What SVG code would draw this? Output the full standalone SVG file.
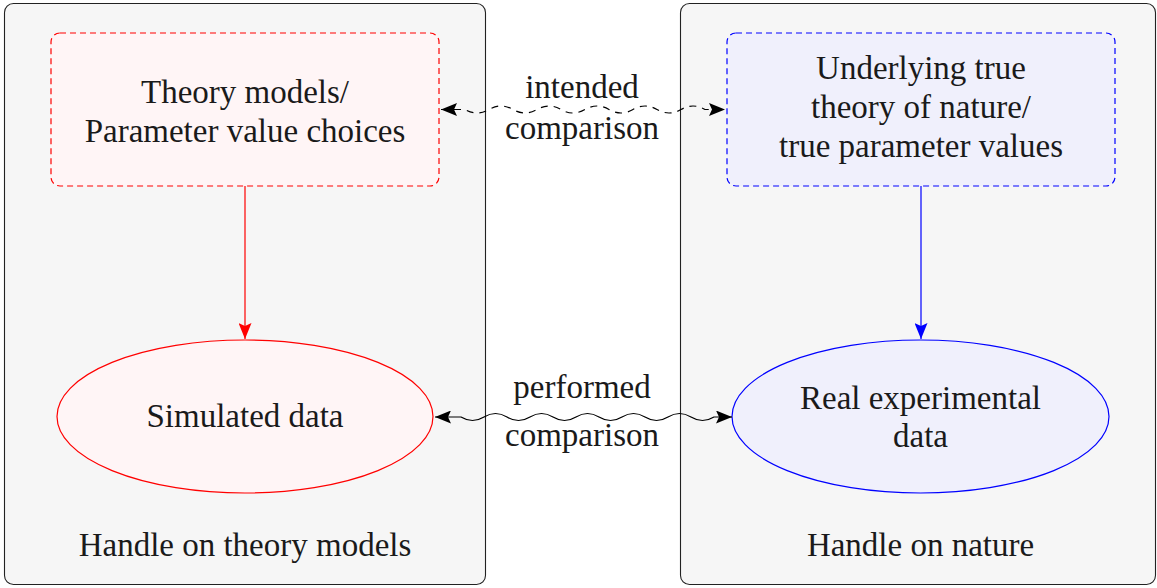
<svg xmlns="http://www.w3.org/2000/svg" width="1157" height="588" viewBox="0 0 1157 588">
<style>
text{font-size:33px;fill:#1a1a1a;text-anchor:middle}
.panel{fill:#f6f6f6;stroke:#222;stroke-width:1.1}
.rbox{fill:#fff5f6;stroke:#ff0000;stroke-width:1.2;stroke-dasharray:6 4}
.bbox{fill:#f0f0fc;stroke:#0000ff;stroke-width:1.2;stroke-dasharray:6 4}
.rell{fill:#fff5f6;stroke:#ff0000;stroke-width:1.2}
.bell{fill:#f0f0fc;stroke:#0000ff;stroke-width:1.2}
.conn{fill:none;stroke-width:1.2}
</style>
<defs>
<marker id="ak" viewBox="0 0 16 13" refX="16" refY="6.5" markerWidth="16" markerHeight="13" markerUnits="userSpaceOnUse" orient="auto-start-reverse">
<path d="M0,0 L16,6.5 L0,13 L3,6.5 Z" fill="#000"/>
</marker>
<marker id="ar" viewBox="0 0 16 13" refX="16" refY="6.5" markerWidth="16" markerHeight="13" markerUnits="userSpaceOnUse" orient="auto">
<path d="M0,0 L16,6.5 L0,13 L3,6.5 Z" fill="#ff0000"/>
</marker>
<marker id="ab" viewBox="0 0 16 13" refX="16" refY="6.5" markerWidth="16" markerHeight="13" markerUnits="userSpaceOnUse" orient="auto">
<path d="M0,0 L16,6.5 L0,13 L3,6.5 Z" fill="#0000ff"/>
</marker>
</defs>
<g font-family="Liberation Serif, serif">
<g id="panel-theory">
<rect class="panel" x="4.5" y="3.5" width="481" height="581" rx="9"/>
<text x="245" y="556">Handle on theory models</text>
</g>
<g id="panel-nature">
<rect class="panel" x="680.5" y="3.5" width="475" height="581" rx="9"/>
<text x="920.5" y="556">Handle on nature</text>
</g>
<g id="theory-models">
<rect class="rbox" x="51" y="33" width="388" height="153" rx="9"/>
<text x="245" y="103">Theory models/</text>
<text x="245" y="142">Parameter value choices</text>
</g>
<g id="true-theory">
<rect class="bbox" x="727" y="33" width="388" height="153" rx="9"/>
<text x="921" y="79">Underlying true</text>
<text x="921" y="118">theory of nature/</text>
<text x="921" y="157">true parameter values</text>
</g>
<g id="simulated-data">
<ellipse class="rell" cx="245" cy="416.5" rx="188" ry="76.5"/>
<text x="245" y="427">Simulated data</text>
</g>
<g id="real-data">
<ellipse class="bell" cx="920.5" cy="416.5" rx="188.5" ry="76.5"/>
<text x="920.5" y="409">Real experimental</text>
<text x="920.5" y="447">data</text>
</g>
<g id="connectors">
<line class="conn" x1="245" y1="186" x2="245" y2="339" stroke="#ff0000" marker-end="url(#ar)"/>
<line class="conn" x1="921" y1="186" x2="921" y2="339" stroke="#0000ff" marker-end="url(#ab)"/>
<path class="conn" stroke="#000" stroke-dasharray="7 6" marker-start="url(#ak)" marker-end="url(#ak)" d="M441,109.5 L465,109.5 Q477,116.5 489,109.5 T513,109.5 T537,109.5 T561,109.5 T585,109.5 T609,109.5 T633,109.5 T657,109.5 T681,109.5 T705,109.5 L725,109.5"/>
<path class="conn" stroke="#000" marker-start="url(#ak)" marker-end="url(#ak)" d="M435,417 L461,417 Q472.5,424 484,417 T507,417 T530,417 T553,417 T576,417 T599,417 T622,417 T645,417 T668,417 T691,417 T714,417 L732,417"/>
<text x="582" y="98">intended</text>
<text x="582" y="139">comparison</text>
<text x="582" y="398">performed</text>
<text x="582" y="446">comparison</text>
</g>
</g>
</svg>
